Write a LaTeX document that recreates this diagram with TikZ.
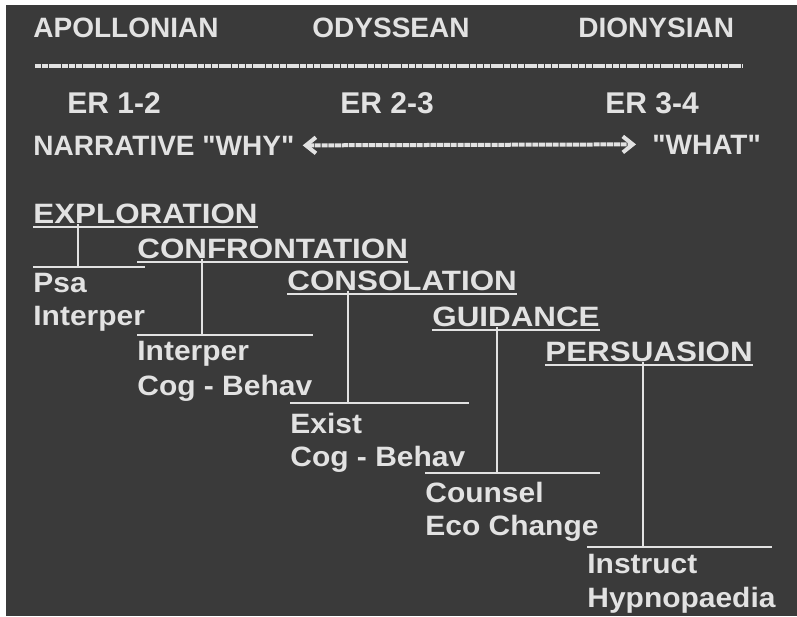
\documentclass[tikz,border=0pt]{standalone}
\usepackage{fontspec}
\setmainfont{Liberation Sans}
\newfontfamily\headfont{Liberation Sans}[FakeStretch=1.12]
\newfontfamily\itemfont{Liberation Sans}[FakeStretch=1.07]
\usetikzlibrary{arrows.meta,positioning,calc}
\definecolor{board}{RGB}{58,58,58}
\definecolor{chalk}{RGB}{226,226,226}

\begin{document}
\begin{tikzpicture}[x=0.5pt,y=-0.5pt,>={Straight Barb[length=5pt,width=8pt]}]
	\tikzset{txt/.style = {anchor=base west,inner sep=0pt,text=chalk,font=\bfseries\fontsize{14}{16}\selectfont}}
	\tikzset{head/.style = {txt,font=\headfont\bfseries\fontsize{14}{16}\selectfont}}
	\tikzset{item/.style = {txt,font=\itemfont\bfseries\fontsize{14}{16}\selectfont}}
	\tikzset{link/.style = {draw=chalk,line width=1.2pt}}
	\tikzset{rule/.style = {draw=chalk,line width=1.6pt,dash pattern=on 3pt off 0.4pt}}
	% board
	\useasboundingbox (0,0) rectangle (797,616);
	\fill[white] (0,0) rectangle (797,616);
	\fill[board] (6,5) rectangle (797,616);
	% top labels
	\node[txt] (apol) at (33,37) {APOLLONIAN};
	\node[txt] (odys) at (312,37) {ODYSSEAN};
	\node[txt] (dion) at (578,37) {DIONYSIAN};
	\coordinate (rl) at (35,66);
	\coordinate (rr) at (743,66);
	\draw[rule] (rl) -- (rr);
	\node[txt,font=\bfseries\fontsize{15}{17}\selectfont] (er1) at (67,113) {ER 1-2};
	\node[txt,font=\bfseries\fontsize{15}{17}\selectfont] (er2) at (340,113) {ER 2-3};
	\node[txt,font=\bfseries\fontsize{15}{17}\selectfont] (er3) at (605,113) {ER 3-4};
	\node[txt] (why) at (33,155) {NARRATIVE \textquotedbl WHY\textquotedbl};
	\node[txt] (what) at (652,154) {\textquotedbl WHAT\textquotedbl};
	\draw[rule,<->,line width=2pt] ([xshift=4pt]why.east) -- ([xshift=-8pt]what.west);
	% headings
	\node[head] (expl) at (33,223) {EXPLORATION};
	\node[head] (conf) at (137,258) {CONFRONTATION};
	\node[head] (cons) at (287,290) {CONSOLATION};
	\node[head] (guid) at (432,326) {GUIDANCE};
	\node[head] (pers) at (545,361) {PERSUASION};
	\foreach \h in {expl,conf,cons,guid,pers}
		\draw[link,line width=1pt] ([yshift=-2pt]\h.base west) -- ([yshift=-2pt]\h.base east);
	% methods
	\node[item] (psa) at (33,292) {Psa};
	\node[item] (psai) at (33,325) {Interper};
	\node[item] (intp) at (137,360) {Interper};
	\node[item] (cogb) at (137,395) {Cog - Behav};
	\node[item] (exis) at (290,433) {Exist};
	\node[item] (cogc) at (290,466) {Cog - Behav};
	\node[item] (couns) at (425,502) {Counsel};
	\node[item] (eco) at (425,535) {Eco Change};
	\node[item] (instr) at (587,573) {Instruct};
	\node[item] (hypno) at (587,607) {Hypnopaedia};
	% branches
	\coordinate (b1) at (78,267);  \coordinate (b1e) at (145,267);
	\coordinate (b2) at (202,335); \coordinate (b2e) at (313,335);
	\coordinate (b3) at (348,403); \coordinate (b3e) at (469,403);
	\coordinate (b4) at (497,473); \coordinate (b4e) at (600,473);
	\coordinate (b5) at (643,547); \coordinate (b5e) at (772,547);
	\draw[link] (expl.south -| b1) -- (b1);
	\draw[link] (b1 -| psa.west) -- (b1e);
	\draw[link] (conf.south -| b2) -- (b2);
	\draw[link] (b2 -| intp.west) -- (b2e);
	\draw[link] (cons.south -| b3) -- (b3);
	\draw[link] (b3 -| exis.west) -- (b3e);
	\draw[link] (guid.south -| b4) -- (b4);
	\draw[link] (b4 -| couns.west) -- (b4e);
	\draw[link] (pers.south -| b5) -- (b5);
	\draw[link] (b5 -| instr.west) -- (b5e);
\end{tikzpicture}
\end{document}
